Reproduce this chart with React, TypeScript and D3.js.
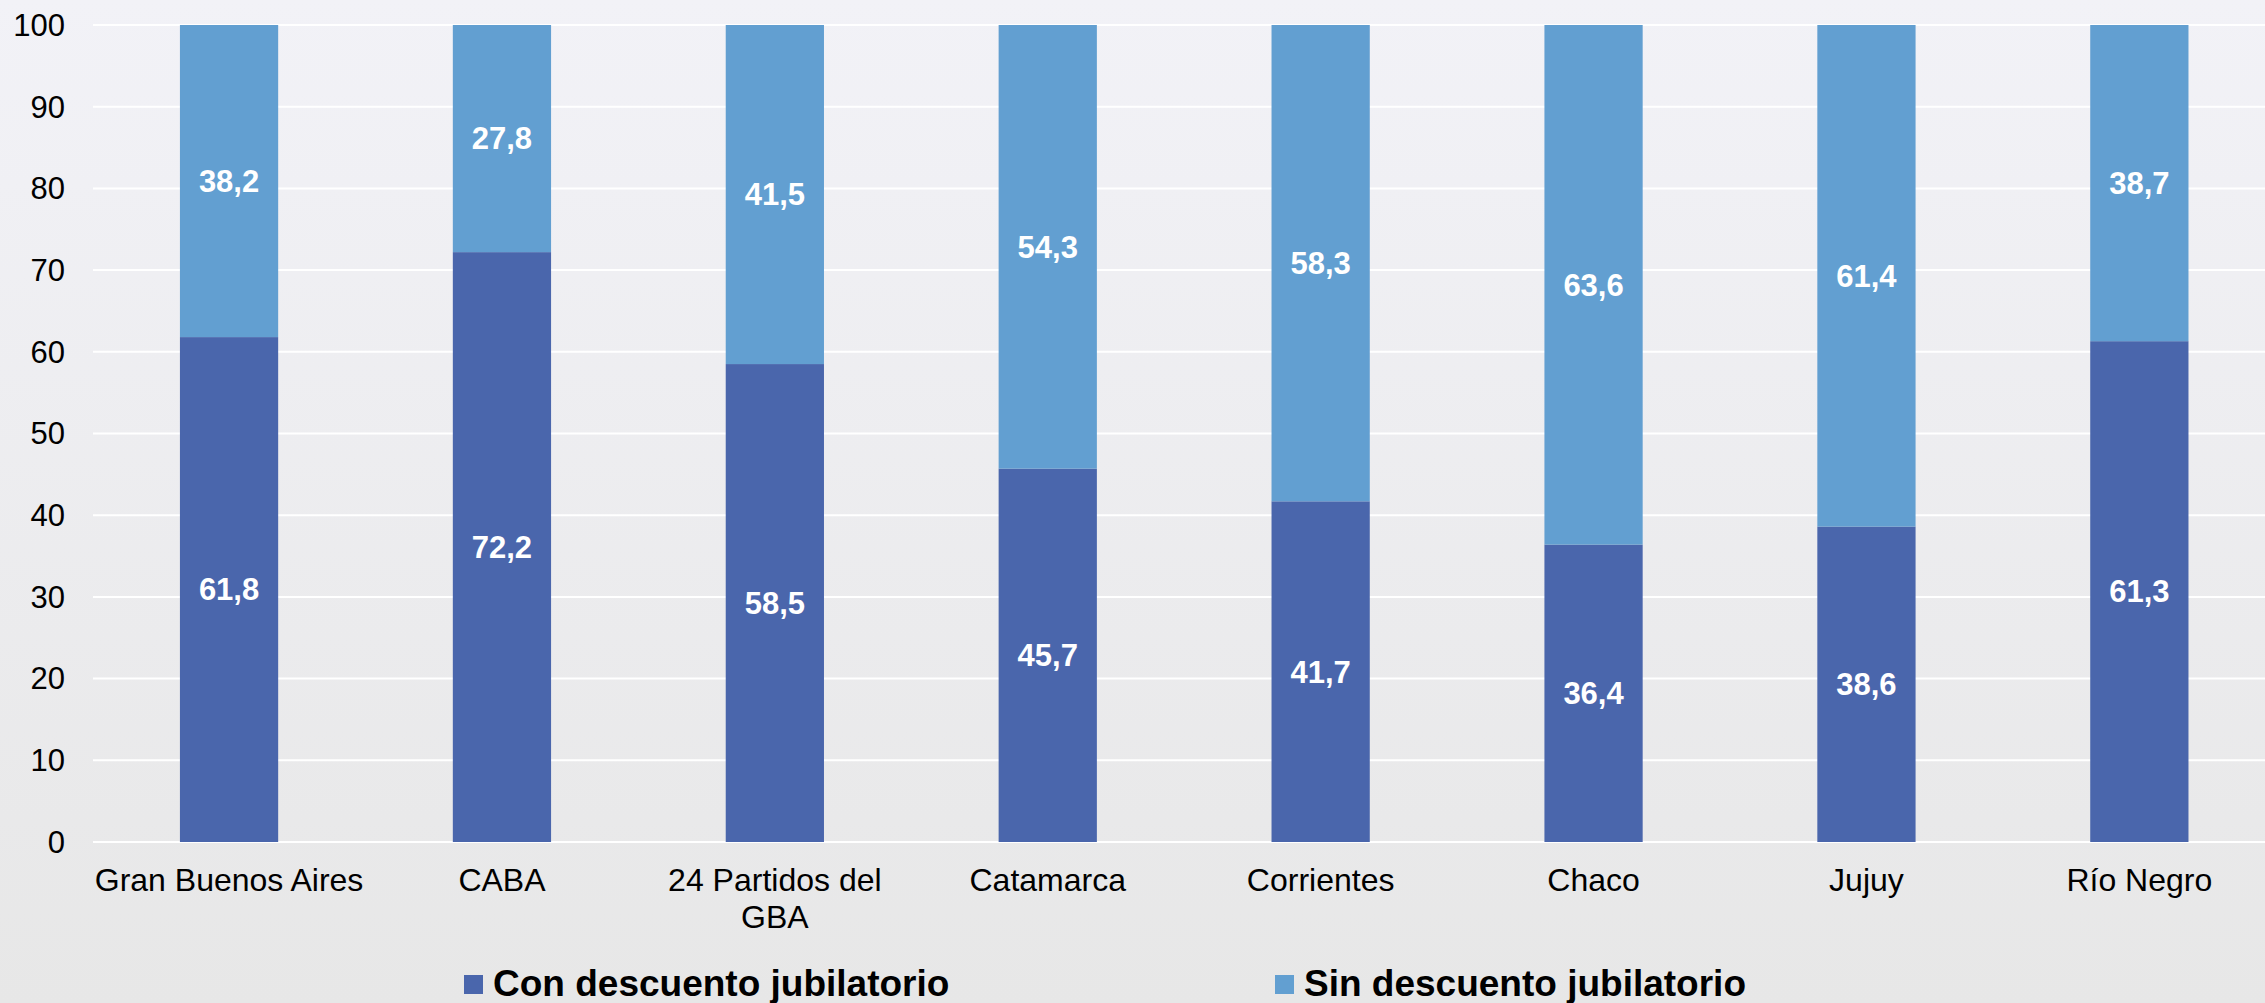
import React from "react";
import * as d3 from "d3";

const categories = [
  "Gran Buenos Aires",
  "CABA",
  "24 Partidos del\nGBA",
  "Catamarca",
  "Corrientes",
  "Chaco",
  "Jujuy",
  "Río Negro",
];
const conDescuento = [61.8, 72.2, 58.5, 45.7, 41.7, 36.4, 38.6, 61.3];
const sinDescuento = [38.2, 27.8, 41.5, 54.3, 58.3, 63.6, 61.4, 38.7];
const yTicks = [0, 10, 20, 30, 40, 50, 60, 70, 80, 90, 100];
const seriesNames = ["Con descuento jubilatorio", "Sin descuento jubilatorio"];
const seriesColors = ["#4A66AC", "#629FD1"];

const W = 2265;
const H = 1003;
const FONT = "'Liberation Sans', Arial, Helvetica, sans-serif";

export default function App() {
  const x = d3
    .scaleBand<string>()
    .domain(categories)
    .range([92.6, 2275.8])
    .paddingInner(0.64)
    .paddingOuter(0.32);
  const y = d3.scaleLinear().domain([0, 100]).range([842, 25]);

  const rows = categories.map((c, i) => ({ cat: c, con: conDescuento[i], sin: sinDescuento[i] }));
  const stack = d3.stack<any>().keys(["con", "sin"])(rows);
  const fmt = (v: number) => v.toFixed(1).replace(".", ",");

  return (
    <svg
      width={W}
      height={H}
      style={{ position: "absolute", left: 0, top: 0, display: "block" }}
      fontFamily={FONT}
    >
      <defs>
        <linearGradient id="bg" x1="0" y1="0" x2="0" y2="1">
          <stop offset="0%" stopColor="#F2F2F7" />
          <stop offset="100%" stopColor="#E7E7E7" />
        </linearGradient>
      </defs>
      <rect x={0} y={0} width={W} height={H} fill="url(#bg)" />

      {yTicks.map((t) => (
        <g key={t}>
          <line x1={93} x2={W} y1={y(t)} y2={y(t)} stroke="#FFFFFF" strokeWidth={2} />
          <text x={65} y={y(t)} dy="0.35em" textAnchor="end" fontSize={31} fill="#000">
            {t}
          </text>
        </g>
      ))}

      {stack.map((layer, si) => (
        <g key={si}>
          {layer.map((d, i) => (
            <g key={i}>
              <rect
                x={x(categories[i])}
                width={x.bandwidth()}
                y={y(d[1])}
                height={y(d[0]) - y(d[1])}
                fill={seriesColors[si]}
              />
              <text
                x={(x(categories[i]) as number) + x.bandwidth() / 2}
                y={y((d[0] + d[1]) / 2)}
                dy="0.35em"
                textAnchor="middle"
                fontSize={31}
                fontWeight="bold"
                fill="#FFFFFF"
              >
                {fmt(d[1] - d[0])}
              </text>
            </g>
          ))}
        </g>
      ))}

      {categories.map((c) => (
        <text
          key={c}
          x={(x(c) as number) + x.bandwidth() / 2}
          y={891}
          textAnchor="middle"
          fontSize={32}
          fill="#000"
        >
          {c.split("\n").map((line, li) => (
            <tspan key={li} x={(x(c) as number) + x.bandwidth() / 2} dy={li === 0 ? 0 : 37}>
              {line}
            </tspan>
          ))}
        </text>
      ))}

      {seriesNames.map((name, i) => {
        const lx = [464, 1275][i];
        return (
          <g key={name}>
            <rect x={lx} y={975} width={19} height={19} fill={seriesColors[i]} />
            <text x={lx + 29} y={996} fontSize={37} fontWeight="bold" fill="#000">
              {name}
            </text>
          </g>
        );
      })}
    </svg>
  );
}
